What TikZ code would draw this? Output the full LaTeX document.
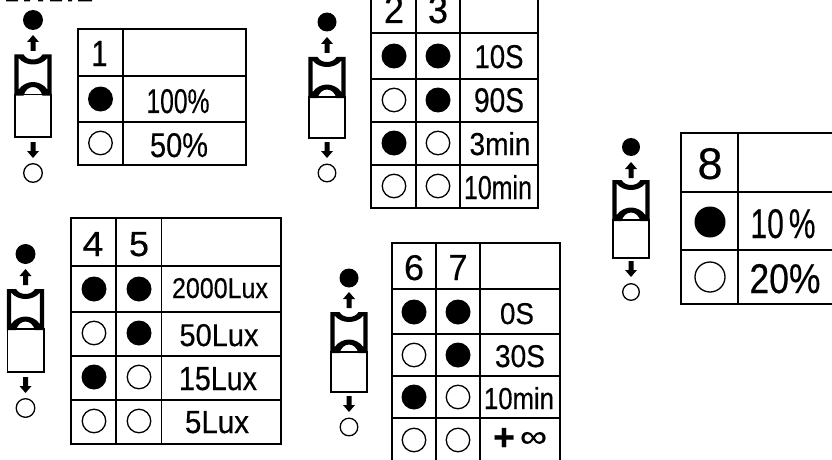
\documentclass[tikz,border=0pt]{standalone}
\usepackage{fontspec}
\usepackage{graphicx}
\setmainfont{Liberation Sans}[RawFeature={embolden=0.4}]
\newcommand{\lab}[6]{\node[labnode] (#1) at (#2,#3) {\resizebox{\dimexpr#4pt+2pt\relax}{#5pt}{#6}};}
\newcommand{\swicon}[9]{%
\begin{scope}[shift={(#2,#3)}]
  \pgfmathsetmacro{\ih}{#4-#3}
  \draw[thinwall] (-18.2,40) rectangle (18.2,\ih);
  \fill[black,even odd rule] (-18.7,0) -- (-9.5,0) .. controls (-7.5,3.4) and (-4,5) .. (0,5) .. controls (4,5) and (7.5,3.4) .. (9.5,0) -- (18.7,0) -- (18.7,41.2)
   -- (9.5,41.2) .. controls (8,36) and (4.5,32.5) .. (0,32.5) .. controls (-4.5,32.5) and (-8,36) .. (-9.5,41.2) -- (-18.7,41.2) -- cycle
   (-14.3,3.5) .. controls (-11,8) and (-5,10) .. (0,10) .. controls (5,10) and (11,8) .. (14.3,3.5) -- (14.3,35)
   .. controls (11,30) and (5,27.5) .. (0,27.5) .. controls (-5,27.5) and (-11,30) .. (-14.3,35) -- cycle;
\end{scope}
\node[fullc,minimum size={2*#9*1pt}] (#1a) at (#2,#5) {};
\node[openc,minimum size={(2*#9-1.4)*1pt}] (#1b) at (#2,#8) {};
\coordinate (#1u) at (#2,#6);
\coordinate (#1d) at (#2,#7);
\fill[black] (#1u) -- ++(6,7) -- ++(-3.5,0) -- ++(0,9) -- ++(-5,0) -- ++(0,-9) -- ++(-3.5,0) -- cycle;
\fill[black] (#1d) ++(-2.5,-16) -- ++(5,0) -- ++(0,9) -- ++(3.5,0) -- ++(-6,7) -- ++(-6,-7) -- ++(3.5,0) -- cycle;
}
\tikzset{
  x=1pt,y=-1pt,
  grid/.style={line width=1.5pt,black},
  thinwall/.style={line width=1.6pt,black,fill=white},
  labnode/.style={inner sep=0pt,outer sep=0pt,anchor=base},
  fullc/.style={circle,fill=black,draw=none,inner sep=0pt},
  openc/.style={circle,fill=white,draw=black,line width=1.3pt,inner sep=0pt},
  cell/.style={circle,inner sep=0pt,minimum size=25pt},
  on/.style={cell,fill=black},
  off/.style={cell,draw=black,line width=1.3pt,fill=white,minimum size=23.5pt},
  bigon/.style={on,minimum size=31pt},
  bigoff/.style={off,minimum size=30pt},
}
\begin{document}
\begin{tikzpicture}
\path[use as bounding box,clip] (0,0) rectangle (832,460);
\fill[white] (0,0) rectangle (832,460);
\fill[black] (6,0) rectangle (18,1.4) (24,0) rectangle (30,1.4) (38,0) rectangle (43,1.4) (50,0) rectangle (62,1.4) (68,0) rectangle (72,1.4) (78,0) rectangle (92,1.4);
% table 1
\draw[grid] (78,29) rectangle (246,165) (123,29) -- (123,165) (78,76) -- (246,76) (78,122) -- (246,122);
\lab{a1}{99.5}{66}{14}{25}{1}
\lab{a2}{178}{113}{61}{24}{100\%}
\lab{a3}{179}{157}{56}{24}{50\%}
\node[on] (a4) at (100.5,99) {};
\node[off] (a5) at (100.5,143) {};
\swicon{ia}{33}{54.5}{137}{20}{35}{158}{173}{10}
% table 2-3
\draw[grid] (371,-5) rectangle (538,208) (416,-5) -- (416,208) (460,-5) -- (460,208) (371,33) -- (538,33) (371,79) -- (538,79) (371,122) -- (538,122) (371,165) -- (538,165);
\lab{b1}{394}{23}{18}{27}{2}
\lab{b2}{438}{23}{18}{27}{3}
\lab{b3}{499}{68}{47}{23}{10S}
\lab{b4}{499}{112}{48}{24}{90S}
\lab{b5}{500}{155}{59}{23}{3min}
\lab{b6}{498}{199}{66}{24}{10min}
\node[on] (b7) at (394,56) {};
\node[on] (b8) at (438,56) {};
\node[off] (b9) at (394,100) {};
\node[on] (b10) at (438,100) {};
\node[on] (b11) at (394,143) {};
\node[off] (b12) at (438,143) {};
\node[off] (b13) at (394,186) {};
\node[off] (b14) at (438,186) {};
\swicon{ib}{327}{57}{138}{22}{37}{158}{173}{9.5}
% table 4-5
\draw[grid] (71,218) rectangle (281,444) (116,218) -- (116,444) (161.5,218) -- (161.5,444) (71,266) -- (281,266) (71,312) -- (281,312) (71,356) -- (281,356) (71,400) -- (281,400);
\lab{c1}{93}{256}{19}{24}{4}
\lab{c2}{139}{256}{18}{24}{5}
\lab{c3}{220}{298}{94}{20}{2000Lux}
\lab{c4}{219}{346}{77}{22}{50Lux}
\lab{c5}{218}{390}{76}{23}{15Lux}
\lab{c6}{217}{433}{62}{22}{5Lux}
\node[on] (c7) at (94,289) {};
\node[on] (c8) at (139,289) {};
\node[off] (c9) at (94,333) {};
\node[on] (c10) at (139,333) {};
\node[on] (c11) at (94,377) {};
\node[off] (c12) at (139,377) {};
\node[off] (c13) at (94,421) {};
\node[off] (c14) at (139,421) {};
\swicon{ic}{25.5}{289}{372}{254}{269}{393}{408}{10}
% table 6-7
\draw[grid] (392,243) rectangle (560,470) (436,243) -- (436,470) (480,243) -- (480,470) (392,289) -- (560,289) (392,334) -- (560,334) (392,376) -- (560,376) (392,418) -- (560,418);
\lab{d1}{414}{280}{18}{25}{6}
\lab{d2}{458}{280}{17}{25}{7}
\lab{d3}{517}{324}{32}{21}{0S}
\lab{d4}{520}{367}{48}{22}{30S}
\lab{d5}{519}{409}{68}{22}{10min}
\node[labnode] (d6) at (520,450) {\resizebox{22pt}{22pt}{\bfseries +}\hspace{5pt}\raisebox{3pt}{\resizebox{27pt}{15pt}{∞}}};
\node[on] (d7) at (414,312) {};
\node[on] (d8) at (458,312) {};
\node[off] (d9) at (414,355) {};
\node[on] (d10) at (458,355) {};
\node[on] (d11) at (414,397) {};
\node[off] (d12) at (458,397) {};
\node[off] (d13) at (414,440) {};
\node[off] (d14) at (458,440) {};
\swicon{id}{349}{312}{392}{278}{292}{412}{427}{9.5}
% table 8
\draw[grid] (681,133) rectangle (850,304) (738,133) -- (738,304) (681,192) -- (850,192) (681,250) -- (850,250);
\lab{e1}{710}{179}{23}{31}{8}
\lab{e2}{783}{238}{63}{29}{10\,\%}
\lab{e3}{785}{293}{69}{29}{20\%}
\node[bigon] (e4) at (710,222) {};
\node[bigoff] (e5) at (710,277) {};
\swicon{ie}{631}{180}{258}{147}{162}{277}{292}{9}
\end{tikzpicture}
\end{document}
